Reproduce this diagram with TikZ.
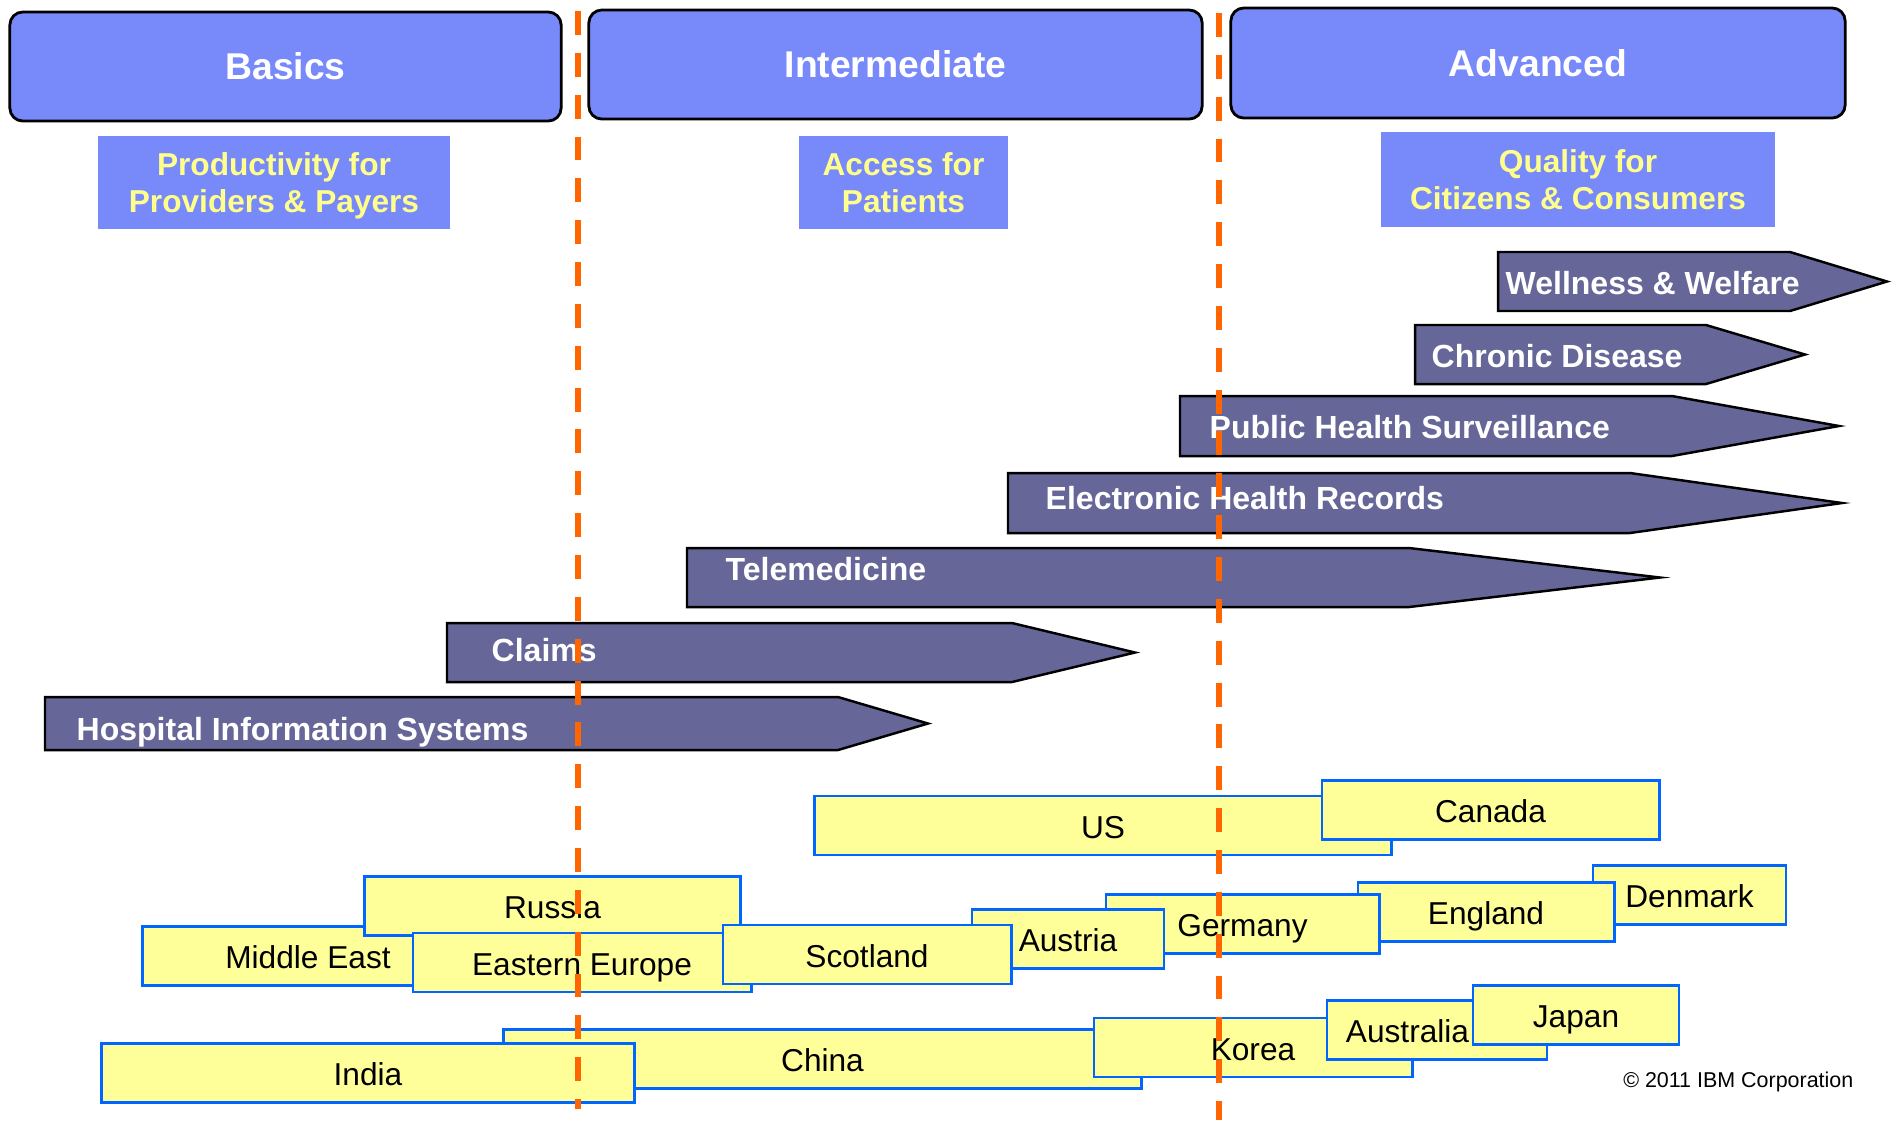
\documentclass[tikz,border=0pt]{standalone}
\usepackage{fontspec}
\setmainfont{Liberation Sans}

\definecolor{phaseblue}{RGB}{120,137,250}
\definecolor{stagegray}{RGB}{102,102,153}
\definecolor{countryfill}{RGB}{255,255,153}
\definecolor{countryline}{RGB}{0,102,255}
\definecolor{goaltext}{RGB}{255,255,140}
\definecolor{divider}{RGB}{255,102,0}

\begin{document}
\begin{tikzpicture}[x=0.01cm, y=-0.01cm,
	phase/.style={draw=black, line width=0.8pt, fill=phaseblue, rounded corners=0.13cm, text=white, font=\fontsize{10.6}{12}\selectfont\bfseries},
	goal/.style={fill=phaseblue, text=goaltext, align=center, inner sep=0pt, text depth=0pt, font=\fontsize{9}{10.7}\selectfont\bfseries},
	stage/.style={draw=black, line width=0.7pt, fill=stagegray},
	stagetext/.style={anchor=west, text=white, inner sep=0pt, text height=0.72em, text depth=0pt, font=\fontsize{9.1}{11}\selectfont\bfseries},
	country/.style={draw=countryline, line width=0.8pt, fill=countryfill, minimum height=0.59cm, inner sep=0pt, text height=0.72em, text depth=0pt, font=\fontsize{9}{11}\selectfont},
	divide/.style={divider, line width=1.6pt, dash pattern=on 6.8pt off 5.1pt}]
	\useasboundingbox (0,0) rectangle (1900,1120);
	% phases
	\node[phase, minimum width=5.51cm, minimum height=1.09cm] (basics) at (285.5,66.5) {Basics};
	\node[phase, minimum width=6.13cm, minimum height=1.09cm] (intermediate) at (895.5,64.5) {Intermediate};
	\node[phase, minimum width=6.14cm, minimum height=1.10cm] (advanced) at (1538,63) {Advanced};
	\node[goal, minimum width=3.52cm, minimum height=0.93cm] (productivity) at (274,182.5) {Productivity for\\Providers \& Payers};
	\node[goal, minimum width=2.09cm, minimum height=0.93cm] (access) at (903.5,182.5) {Access for\\Patients};
	\node[goal, minimum width=3.94cm, minimum height=0.95cm] (quality) at (1578,179.5) {Quality for\\Citizens \& Consumers};
	% stages
	\foreach \nm/\l/\t/\b/\s/\p/\tx/\ty/\txt in {
		wellness/1498/252/311/1790/1887/1505/282/Wellness \& Welfare,
		chronic/1415/325/384/1706/1805/1431/355/Chronic Disease,
		surveillance/1180/396/456/1672/1839/1209/426/Public Health Surveillance,
		ehr/1008/473/533/1630/1842/1045/497/Electronic Health Records,
		telemedicine/687/548/607/1409/1660/725/568/Telemedicine,
		claims/447/623/682/1012/1135/491/649/Claims,
		his/45/697/750/838/928/76/728/Hospital Information Systems} {
		\draw[stage] (\l,\t) -- (\s,\t) -- (\p,{(\t+\b)/2}) -- (\s,\b) -- (\l,\b) -- cycle;
		\node[stagetext] (\nm) at (\tx,\ty) {\txt};
	}
	% countries
	\foreach \nm/\cx/\cy/\w/\txt in {
		us/1103/825.5/5.76/US,
		canada/1490.5/810/3.37/Canada,
		middleeast/308/956/3.30/Middle East,
		russia/552.5/906/3.75/Russia,
		denmark/1689.5/895/1.93/Denmark,
		england/1486/912/2.56/England,
		germany/1242.5/924/2.73/Germany,
		austria/1068/939/1.92/Austria,
		easterneurope/582/962.5/3.38/Eastern Europe,
		scotland/867/954.5/2.88/Scotland,
		china/822.5/1059/6.37/China,
		india/368/1073/5.32/India,
		korea/1253/1047.5/3.18/Korea}
		\node[country, minimum width=\w cm] (\nm) at (\cx,\cy) {\txt};
	\node[country, minimum width=2.20cm, inner xsep=0.19cm, text width=1.82cm, align=left] (australia) at (1437,1030) {Australia};
	\node[country, minimum width=2.06cm] (japan) at (1576,1015) {Japan};
	% phase borders
	\draw[divide] (578,11) -- (578,1109);
	\draw[divide] (1219,13) -- (1219,1120);
	\node[anchor=east, inner sep=0pt, font=\fontsize{6.1}{7}\selectfont] (copyright) at (1854,1082) {© 2011 IBM Corporation};
\end{tikzpicture}
\end{document}
